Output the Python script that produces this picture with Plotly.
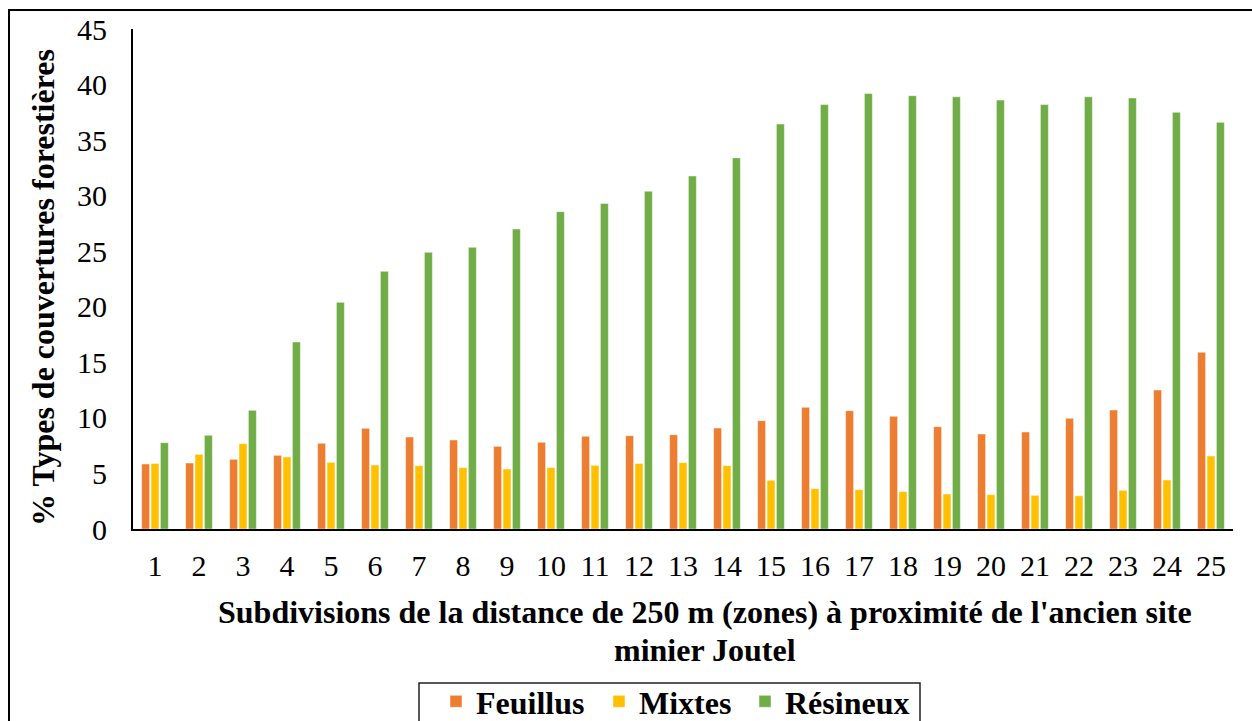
import plotly.graph_objects as go

# Zones (250 m subdivisions) and forest cover percentages per type
zones = [str(i) for i in range(1, 26)]
feuillus = [5.85, 5.94, 6.27, 6.63, 7.71, 9.06, 8.28, 8.01, 7.44, 7.80, 8.34, 8.40, 8.49,
            9.09, 9.75, 10.95, 10.65, 10.14, 9.21, 8.55, 8.73, 9.96, 10.71, 12.51, 15.90]
mixtes = [5.90, 6.72, 7.68, 6.48, 6.00, 5.76, 5.70, 5.52, 5.40, 5.52, 5.73, 5.90, 5.97,
          5.70, 4.38, 3.63, 3.54, 3.36, 3.15, 3.09, 3.03, 2.99, 3.48, 4.41, 6.57]
resineux = [7.77, 8.43, 10.68, 16.83, 20.40, 23.19, 24.90, 25.35, 27.00, 28.56, 29.30,
            30.40, 31.77, 33.40, 36.45, 38.20, 39.20, 39.00, 38.90, 38.60, 38.20, 38.90,
            38.80, 37.50, 36.60]
y_ticks = [0, 5, 10, 15, 20, 25, 30, 35, 40, 45]

series = [("Feuillus", feuillus, "#ED7D31"),
          ("Mixtes", mixtes, "#FFC000"),
          ("Résineux", resineux, "#70AD47")]

SERIF = "Liberation Serif"
W, H = 1252, 721
L, R, T, B = 133, 19, 29, 192
PW, PH = W - L - R, H - T - B


def px_x(x):
    """Pixel column -> paper x."""
    return (x - L) / PW


def px_y(y):
    """Pixel row -> paper y."""
    return (H - B - y) / PH


# One legend per series so each entry sits at its own spot in the legend box
legend_ids = ["legend", "legend2", "legend3"]
legend_left = [436, 599, 745]

fig = go.Figure()
for (name, vals, color), lid in zip(series, legend_ids):
    fig.add_trace(go.Bar(
        x=zones, y=vals, name=name, legend=lid,
        marker=dict(color=color, line=dict(color="rgba(255,255,255,0.6)", width=0.8)),
    ))

legend_style = dict(
    orientation="h", xref="container", yref="container",
    xanchor="left", y=1 - 674 / H, yanchor="top",
    font=dict(family=SERIF, size=32, color="black", weight="bold"),
    borderwidth=0, bgcolor="rgba(0,0,0,0)",
)

fig.update_layout(
    width=W, height=H, autosize=False,
    paper_bgcolor="white", plot_bgcolor="white",
    margin=dict(l=L, r=R, t=T, b=B),
    barmode="group", bargap=0.36, bargroupgap=0.15,
    font=dict(family=SERIF, color="black"),
    showlegend=True,
    **{lid: dict(legend_style, x=lx / W) for lid, lx in zip(legend_ids, legend_left)},
)

fig.update_xaxes(
    type="category", showline=True, linecolor="black", linewidth=2,
    ticks="", showgrid=False, zeroline=False,
    tickfont=dict(family=SERIF, size=30, color="black"),
    ticklabelstandoff=9,
)
fig.update_yaxes(
    range=[0, 45], tickvals=y_ticks, showline=True, linecolor="black", linewidth=2,
    ticks="", showgrid=False, zeroline=False,
    tickfont=dict(family=SERIF, size=30, color="black"),
    ticklabelstandoff=18,
)

# Axis titles
title_font = dict(family=SERIF, size=32, color="black", weight="bold")
fig.add_annotation(
    xref="paper", yref="paper", x=px_x(705), y=px_y(612), xanchor="center", yanchor="middle",
    text="Subdivisions de la distance de 250 m (zones) à proximité de l'ancien site",
    showarrow=False, font=title_font,
)
fig.add_annotation(
    xref="paper", yref="paper", x=px_x(705), y=px_y(650), xanchor="center", yanchor="middle",
    text="minier Joutel", showarrow=False, font=title_font,
)
fig.add_annotation(
    xref="paper", yref="paper", x=px_x(43), y=px_y(288), xanchor="center", yanchor="middle",
    text="% Types de couvertures forestières", textangle=-90, showarrow=False,
    font=title_font,
)

# Outer frame and legend box
fig.add_shape(type="rect", xref="paper", yref="paper",
              x0=px_x(9), x1=px_x(1300), y0=px_y(760), y1=px_y(10),
              line=dict(color="black", width=2), fillcolor="rgba(0,0,0,0)", layer="below")
fig.add_shape(type="rect", xref="paper", yref="paper",
              x0=px_x(419), x1=px_x(920), y0=px_y(740), y1=px_y(683),
              line=dict(color="#222222", width=1.5), fillcolor="rgba(0,0,0,0)", layer="below")

fig.write_html("out.html")
